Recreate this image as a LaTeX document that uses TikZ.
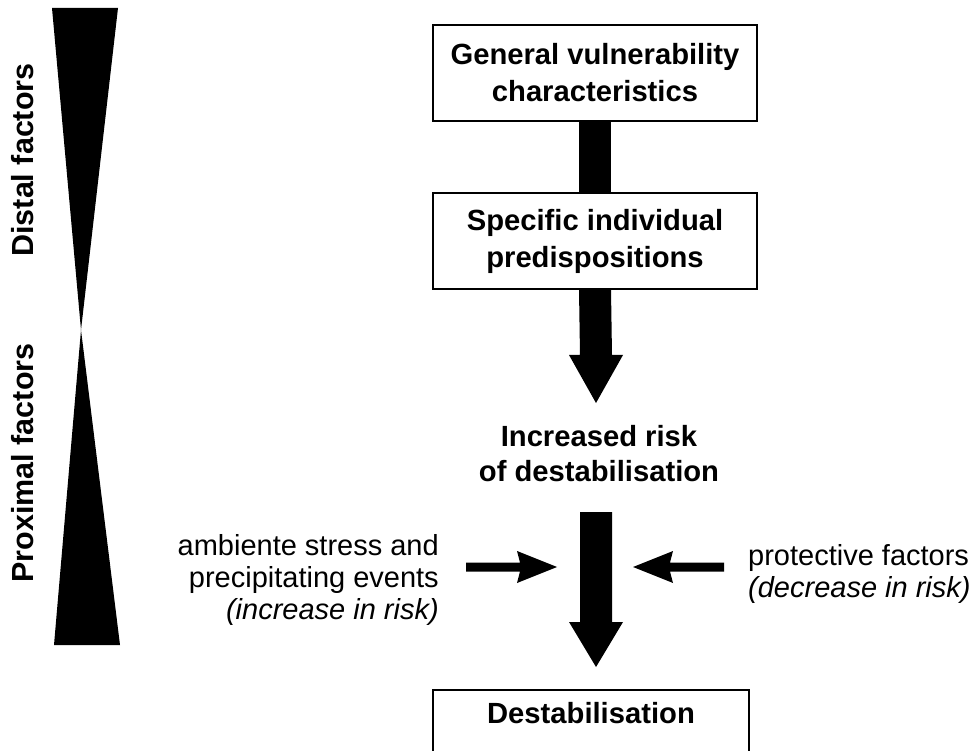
\documentclass[tikz,border=0pt]{standalone}
\usepackage{fontspec}
\setmainfont{Liberation Sans}
\usetikzlibrary{calc}
\begin{document}
\begin{tikzpicture}[x=1pt,y=-1pt,
  box/.style={draw,line width=1.6pt,minimum width=324pt,inner sep=0pt,align=center,font=\bfseries\fontsize{29.2}{37}\selectfont},
  boldtxt/.style={align=center,inner sep=0pt,font=\bfseries\fontsize{29.2}{35}\selectfont},
  sidetxt/.style={inner sep=0pt,font=\bfseries\fontsize{30.5}{35}\selectfont},
  plaintxt/.style={inner sep=0pt,font=\fontsize{29}{32}\selectfont}]
\useasboundingbox (0,0) rectangle (975,751);
\clip (0,0) rectangle (975,751);
% hourglass
\fill (52,8) -- (118,8) -- (81,330) -- cycle;
\fill (81,330) -- (120,645) -- (54,645) -- cycle;
\node[sidetxt,rotate=90] (distal) at (22.5,160) {Distal factors};
\node[sidetxt,rotate=90] (proximal) at (22.5,463) {Proximal factors};
% boxes
\node[box,minimum height=96pt] (b1) at (595,73) {General vulnerability\\characteristics};
\node[box,minimum height=96pt] (b2) at (595,241) {Specific individual\\predispositions};
\node[boldtxt] (risk) at (599,454) {Increased risk\\of destabilisation};
\node[box,minimum width=316pt,text height=33pt,text depth=87pt] (b3) at (591,750) {Destabilisation};
% arrow 1 (bar)
\fill ($(b1.south)+(-16,0)$) rectangle ($(b2.north)+(16,0)$);
% arrow 2
\coordinate (tip2) at (596,403);
\fill ($(b2.south)+(-16,0)$) -- ($(b2.south)+(16,0)$) -- ($(tip2)+(16,-48)$) -- ($(tip2)+(27,-48)$) -- (tip2) -- ($(tip2)+(-27,-48)$) -- ($(tip2)+(-16,-48)$) -- cycle;
% arrow 3
\coordinate (top3) at (596,512);
\coordinate (tip3) at (596,667);
\fill ($(top3)+(-16,0)$) -- ($(top3)+(16,0)$) -- ($(tip3)+(16,-45)$) -- ($(tip3)+(27,-45)$) -- (tip3) -- ($(tip3)+(-27,-45)$) -- ($(tip3)+(-16,-45)$) -- cycle;
% side arrows
\coordinate (ltail) at (466,567);
\coordinate (ltip) at (557,567);
\fill ($(ltail)+(0,-4.5)$) -- ($(ltip)+(-37,-4.5)$) -- ($(ltip)+(-40,-16)$) -- (ltip) -- ($(ltip)+(-40,16)$) -- ($(ltip)+(-37,4.5)$) -- ($(ltail)+(0,4.5)$) -- cycle;
\coordinate (rtail) at (724,567);
\coordinate (rtip) at (633,567);
\fill ($(rtail)+(0,-4.5)$) -- ($(rtip)+(37,-4.5)$) -- ($(rtip)+(40,-16)$) -- (rtip) -- ($(rtip)+(40,16)$) -- ($(rtip)+(37,4.5)$) -- ($(rtail)+(0,4.5)$) -- cycle;
% side texts
\node[plaintxt,align=right,anchor=east] (amb) at (439,580) {ambiente stress and\\precipitating events\\\textit{(increase in risk)}};
\node[plaintxt,align=left,anchor=west] (prot) at (748,574) {protective factors\\\textit{(decrease in risk)}};
\end{tikzpicture}
\end{document}
